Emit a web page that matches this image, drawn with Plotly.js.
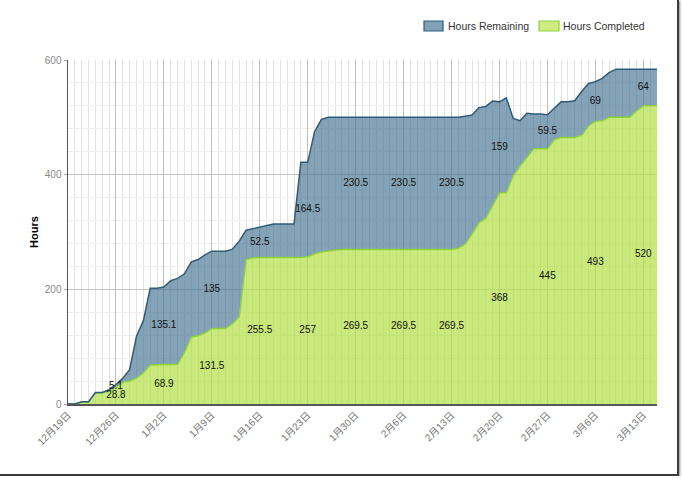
<!DOCTYPE html>
<html>
<head>
<meta charset="utf-8">
<script src="https://cdn.plot.ly/plotly-3.0.1.min.js"></script>
<style>
  html, body { margin: 0; padding: 0; background: #fff; }
  #chart { width: 677px; height: 474px; border-right: 2px solid #3a3a3a; border-bottom: 2px solid #3a3a3a; box-shadow: 1px 1px 2px rgba(0,0,0,0.45); }
</style>
</head>
<body>
<div id="chart"></div>
<script>
// ---- data (one value per day, starting 2010-12-19) ----
const startDate = '2010-12-19';
const completed = [
  0, 0, 3, 3, 19, 19, 22, 28.8, 38, 40,
  45, 54, 68, 68.9, 68.9, 68.9, 68.9, 90, 117, 119,
  124, 131.5, 131.5, 131.5, 140, 152, 252, 255, 255.5, 255.5,
  255.5, 255.5, 255.5, 255.5, 255.5, 257, 262, 265, 267, 268.5,
  269.5, 269.5, 269.5, 269.5, 269.5, 269.5, 269.5, 269.5, 269.5, 269.5,
  269.5, 269.5, 269.5, 269.5, 269.5, 269.5, 269.5, 271.5, 279, 297,
  316, 324, 347, 368, 369, 398, 415, 430, 445, 445,
  445, 461, 465, 465, 465, 469, 485, 493, 494, 500,
  500, 500, 500, 511, 520, 520, 520
];
const remaining = [
  0, 0, 1, 1, 1, 1, 3, 5.1, 7, 20,
  73, 91, 134, 133.1, 135.1, 146.1, 150.1, 137, 131, 133,
  136, 135, 135, 135, 130, 132, 51, 51, 52.5, 56.5,
  58.5, 58.5, 58.5, 58.5, 166, 164.5, 213, 231.5, 233, 231.5,
  230.5, 230.5, 230.5, 230.5, 230.5, 230.5, 230.5, 230.5, 230.5, 230.5,
  230.5, 230.5, 230.5, 230.5, 230.5, 230.5, 230.5, 228.5, 223, 207,
  201, 195, 181.5, 159, 165, 100, 79, 77, 61, 61,
  59.5, 55, 62, 62, 64, 76, 74, 69, 74, 78,
  84, 84, 84, 73, 64, 64, 64
];
// day indices that carry value labels (weekly)
const labelDays = [7, 14, 21, 28, 35, 42, 49, 56, 63, 70, 77, 84];
const seriesNames = ['Hours Remaining', 'Hours Completed'];
const yTitle = 'Hours';

// ---- build dates ----
const dates = [];
const d0 = new Date(startDate + 'T00:00:00Z');
for (let i = 0; i < completed.length; i++) {
  const d = new Date(d0.getTime() + i * 86400000);
  dates.push(d.toISOString().slice(0, 10));
}

const blueLine = '#2e5c7a', blueFill = 'rgba(70,116,146,0.66)';
const greenLine = '#8fd13a', greenFill = 'rgba(178,224,68,0.70)';
const font = 'Tahoma, "Liberation Sans", Arial, "Noto Sans CJK JP", sans-serif';

const lx = [], ly = [], lt = [];
labelDays.forEach(function (i) {
  lx.push(dates[i]); ly.push(completed[i] / 2); lt.push(String(completed[i]));
  lx.push(dates[i]); ly.push(completed[i] + remaining[i] / 2); lt.push(String(remaining[i]));
});

const traces = [
  { type: 'scatter', mode: 'lines', x: dates, y: completed, stackgroup: 'one',
    line: { color: greenLine, width: 1.5, shape: 'linear' }, fillcolor: greenFill,
    name: seriesNames[1], showlegend: false, hoverinfo: 'skip' },
  { type: 'scatter', mode: 'lines', x: dates, y: remaining, stackgroup: 'one',
    line: { color: blueLine, width: 1.5, shape: 'linear' }, fillcolor: blueFill,
    name: seriesNames[0], showlegend: false, hoverinfo: 'skip' },
  { type: 'scatter', mode: 'text', x: lx, y: ly, text: lt, textposition: 'middle center',
    textfont: { family: font, size: 10, color: '#111' }, showlegend: false, hoverinfo: 'skip' }
];

// manual legend (paper coordinates)
const legendShapes = [
  { type: 'rect', xref: 'paper', yref: 'paper', x0: 0.6044, x1: 0.6367, y0: 1.0843, y1: 1.1134,
    fillcolor: 'rgb(130,162,184)', line: { color: '#2e5c7a', width: 1.2 } },
  { type: 'rect', xref: 'paper', yref: 'paper', x0: 0.7997, x1: 0.8336, y0: 1.0843, y1: 1.1134,
    fillcolor: 'rgb(206,236,130)', line: { color: '#8fd13a', width: 1.2 } }
];
const legendAnn = [
  { xref: 'paper', yref: 'paper', x: 0.6420, y: 1.0988, xanchor: 'left', yanchor: 'middle',
    text: seriesNames[0], showarrow: false, font: { family: font, size: 10.5, color: '#333' } },
  { xref: 'paper', yref: 'paper', x: 0.8375, y: 1.0988, xanchor: 'left', yanchor: 'middle',
    text: seriesNames[1], showarrow: false, font: { family: font, size: 10.5, color: '#333' } }
];

const layout = {
  width: 677, height: 474,
  margin: { l: 68, r: 20, t: 60, b: 70 },
  paper_bgcolor: '#fff', plot_bgcolor: '#fff',
  font: { family: font, size: 10, color: '#666' },
  showlegend: false,
  shapes: legendShapes,
  annotations: legendAnn,
  xaxis: {
    type: 'date', range: [dates[0], dates[dates.length - 1]],
    tick0: startDate, dtick: 7 * 86400000, tickformat: '%-m月%-d日', tickangle: -45,
    tickfont: { family: font, size: 10, color: '#777' },
    showgrid: true, gridcolor: '#bdbdbd', gridwidth: 1,
    minor: { dtick: 86400000, tick0: startDate, showgrid: true, gridcolor: '#e2e2e2', gridwidth: 1 },
    showline: true, linecolor: '#555', linewidth: 1.5, ticks: '', zeroline: false,
    automargin: false, fixedrange: true
  },
  yaxis: {
    range: [0, 600], tickvals: [0, 200, 400, 600],
    tickfont: { family: font, size: 10, color: '#888' },
    showgrid: true, gridcolor: '#c4c4c4', gridwidth: 1,
    minor: { dtick: 40, showgrid: true, gridcolor: '#efefef', gridwidth: 1 },
    showline: true, linecolor: '#555', linewidth: 1.5, zeroline: false,
    ticks: 'outside', ticklen: 3, tickcolor: '#aaa',
    title: { text: yTitle, font: { family: font, size: 11, color: '#000', weight: 'bold' }, standoff: 4 },
    automargin: false, fixedrange: true
  }
};

Plotly.newPlot('chart', traces, layout, { displayModeBar: false, staticPlot: true });
</script>
</body>
</html>
